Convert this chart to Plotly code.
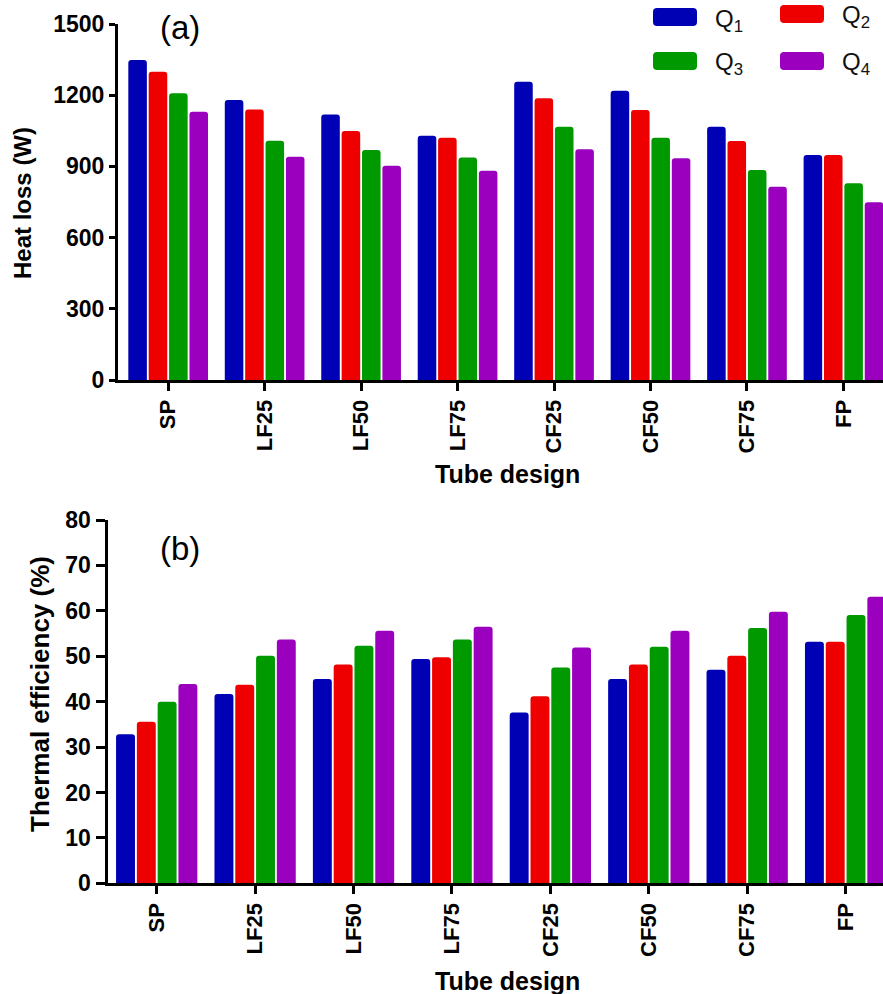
import plotly.graph_objects as go

# Tube designs on the category axis
designs = ["SP", "LF25", "LF50", "LF75", "CF25", "CF50", "CF75", "FP"]

# Series names and colours
series_names = ["Q<sub>1</sub>", "Q<sub>2</sub>", "Q<sub>3</sub>", "Q<sub>4</sub>"]
series_colors = ["#0000B4", "#EE0000", "#009A00", "#9A00BE"]

# (a) Heat loss (W)
heat_q1 = [1348, 1180, 1119, 1029, 1257, 1219, 1067, 948]
heat_q2 = [1299, 1140, 1049, 1021, 1187, 1138, 1007, 948]
heat_q3 = [1208, 1008, 969, 938, 1067, 1021, 885, 829]
heat_q4 = [1130, 941, 903, 882, 972, 934, 814, 749]

# (b) Thermal efficiency (%)
eff_q1 = [32.8, 41.7, 45.0, 49.4, 37.6, 45.0, 47.0, 53.2]
eff_q2 = [35.6, 43.7, 48.2, 49.8, 41.2, 48.2, 50.1, 53.2]
eff_q3 = [40.0, 50.1, 52.3, 53.7, 47.5, 52.1, 56.2, 59.1]
eff_q4 = [43.9, 53.7, 55.6, 56.5, 51.9, 55.6, 59.8, 63.1]

heat_ticks = [0, 300, 600, 900, 1200, 1500]
eff_ticks = [0, 10, 20, 30, 40, 50, 60, 70, 80]

W, H = 883, 994
FONT = "Liberation Sans, Arial, Helvetica, sans-serif"


def px(x):
    return x / W


def py(y):
    return 1 - y / H


fig = go.Figure()
heat = [heat_q1, heat_q2, heat_q3, heat_q4]
eff = [eff_q1, eff_q2, eff_q3, eff_q4]
for name, color, hv, ev in zip(series_names, series_colors, heat, eff):
    fig.add_trace(go.Bar(x=designs, y=hv, name=name, marker=dict(color=color, line=dict(width=0)),
                         xaxis="x", yaxis="y", showlegend=False))
    fig.add_trace(go.Bar(x=designs, y=ev, name=name, marker=dict(color=color, line=dict(width=0)),
                         xaxis="x2", yaxis="y2", showlegend=False))

axis_common = dict(showline=True, linecolor="black", linewidth=3, ticks="outside",
                   tickcolor="black", tickwidth=2.5, showgrid=False, zeroline=False,
                   automargin=False)
xtick_font = dict(family=FONT, size=22, color="black", weight="bold")
ytick_font = dict(family=FONT, size=23, color="black", weight="bold")

fig.update_layout(
    width=W, height=H,
    margin=dict(l=0, r=0, t=0, b=0),
    paper_bgcolor="white", plot_bgcolor="white",
    barmode="group", bargap=0.155, bargroupgap=0.09, barcornerradius=3,
    xaxis=dict(domain=[px(118), 1], anchor="y", type="category", range=[-0.52, 7.41],
               tickangle=-90, ticklen=8, tickfont=xtick_font, **axis_common),
    yaxis=dict(domain=[py(380), py(24)], anchor="x", range=[0, 1500], tickvals=heat_ticks,
               ticklen=6, tickfont=ytick_font, **axis_common),
    xaxis2=dict(domain=[px(107.5), 1], anchor="y2", type="category", range=[-0.5, 7.38],
                tickangle=-90, ticklen=8, tickfont=xtick_font, **axis_common),
    yaxis2=dict(domain=[py(883.3), py(520)], anchor="x2", range=[0, 80], tickvals=eff_ticks,
                ticklen=9, tickfont=ytick_font, **axis_common),
)

title_font = dict(family=FONT, size=25, color="black", weight="bold")
annotations = [
    dict(text="Heat loss (W)", x=px(23), y=py(203), textangle=-90, font=dict(title_font, size=24)),
    dict(text="Thermal efficiency (%)", x=px(40), y=py(694), textangle=-90, font=dict(title_font, size=26)),
    dict(text="Tube design", x=px(508), y=py(474), font=title_font),
    dict(text="Tube design", x=px(508), y=py(981), font=title_font),
    dict(text="(a)", x=px(180), y=py(27), font=dict(family=FONT, size=33, color="black")),
    dict(text="(b)", x=px(180), y=py(548), font=dict(family=FONT, size=33, color="black")),
]

# Legend: rounded swatches with labels, two columns
legend_pos = [(653, 8), (780, 5), (653, 52), (780, 52)]
sw_w, sw_h, r = 44, 18, 4
shapes = []
for (lx, ly), color, name in zip(legend_pos, series_colors, series_names):
    x0, x1, y0, y1 = lx, lx + sw_w, ly, ly + sw_h
    path = (f"M {px(x0 + r)},{py(y0)} L {px(x1 - r)},{py(y0)} Q {px(x1)},{py(y0)} {px(x1)},{py(y0 + r)} "
            f"L {px(x1)},{py(y1 - r)} Q {px(x1)},{py(y1)} {px(x1 - r)},{py(y1)} "
            f"L {px(x0 + r)},{py(y1)} Q {px(x0)},{py(y1)} {px(x0)},{py(y1 - r)} "
            f"L {px(x0)},{py(y0 + r)} Q {px(x0)},{py(y0)} {px(x0 + r)},{py(y0)} Z")
    shapes.append(dict(type="path", xref="paper", yref="paper", path=path,
                       fillcolor=color, line=dict(width=0)))
    annotations.append(dict(text=name, x=px(x1 + 16), y=py(ly + sw_h / 2 + 3), xanchor="left",
                            font=dict(family=FONT, size=24, color="#111111")))

for a in annotations:
    a.setdefault("xref", "paper")
    a.setdefault("yref", "paper")
    a.setdefault("showarrow", False)
    a.setdefault("xanchor", "center")
    a.setdefault("yanchor", "middle")

fig.update_layout(annotations=annotations, shapes=shapes)
fig.write_html("out.html")
